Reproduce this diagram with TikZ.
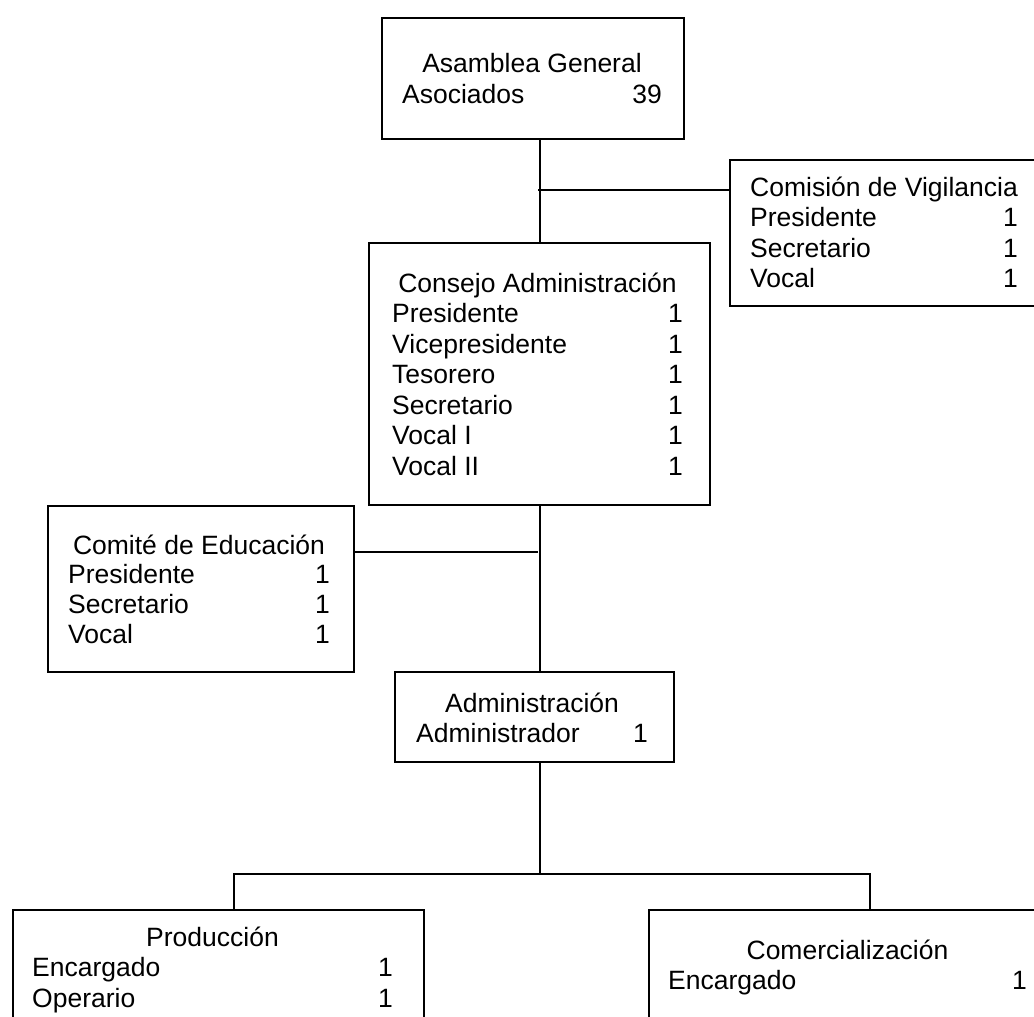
\documentclass[tikz,border=0pt]{standalone}
\usepackage{fontspec}
\setmainfont{Liberation Sans}
\usepackage{tikz}

\begin{document}
\begin{tikzpicture}[x=1pt, y=-1pt,
    font=\fontsize{26.5}{30.5}\selectfont,
    caja/.style={draw, line width=2pt, rectangle, inner sep=0pt, anchor=north west},
    linea/.style={line width=2pt},
    titulo/.style={anchor=base, inner sep=0pt},
    cargo/.style={anchor=base west, inner sep=0pt},
    cant/.style={anchor=base east, inner sep=0pt}]

    \useasboundingbox (0,0) rectangle (1034,1017);
    \clip (0,0) rectangle (1034,1017);

    %Asamblea
    \node[caja, minimum width=302, minimum height=121] (asamblea) at (381,17) {};
    \node[titulo] (asa0) at (532,72) {Asamblea General};
    \node[cargo] (asa1) at (402,103.5) {Asociados};
    \node[cant] (asa1n) at (662,103.5) {39};

    %Comision de vigilancia
    \node[caja, minimum width=320, minimum height=146] (comision) at (729,159) {};
    \node[titulo] (com0) at (884,196) {Comisión de Vigilancia};
    \node[cargo] (com1) at (750,226.5) {Presidente};
    \node[cant] (com1n) at (1018,226.5) {1};
    \node[cargo] (com2) at (750,257) {Secretario};
    \node[cant] (com2n) at (1018,257) {1};
    \node[cargo] (com3) at (750,287.5) {Vocal};
    \node[cant] (com3n) at (1018,287.5) {1};

    %Consejo
    \node[caja, minimum width=341, minimum height=262] (consejo) at (368,242) {};
    \node[titulo] (con0) at (537.5,292) {Consejo Administración};
    \node[cargo] (con1) at (392,322.5) {Presidente};
    \node[cant] (con1n) at (683,322.5) {1};
    \node[cargo] (con2) at (392,353) {Vicepresidente};
    \node[cant] (con2n) at (683,353) {1};
    \node[cargo] (con3) at (392,383.5) {Tesorero};
    \node[cant] (con3n) at (683,383.5) {1};
    \node[cargo] (con4) at (392,414) {Secretario};
    \node[cant] (con4n) at (683,414) {1};
    \node[cargo] (con5) at (392,444.5) {Vocal I};
    \node[cant] (con5n) at (683,444.5) {1};
    \node[cargo] (con6) at (392,475) {Vocal II};
    \node[cant] (con6n) at (683,475) {1};

    %Comite de educacion
    \node[caja, minimum width=306, minimum height=166] (comite) at (47,505) {};
    \node[titulo] (cte0) at (199,554) {Comité de Educación};
    \node[cargo] (cte1) at (68,583.5) {Presidente};
    \node[cant] (cte1n) at (330,583.5) {1};
    \node[cargo] (cte2) at (68,613.5) {Secretario};
    \node[cant] (cte2n) at (330,613.5) {1};
    \node[cargo] (cte3) at (68,643.5) {Vocal};
    \node[cant] (cte3n) at (330,643.5) {1};

    %Administracion
    \node[caja, minimum width=279, minimum height=90] (adm) at (394,671) {};
    \node[titulo] (adm0) at (532,712) {Administración};
    \node[cargo] (adm1) at (416,742) {Administrador};
    \node[cant] (adm1n) at (648,742) {1};

    %Produccion
    \node[caja, minimum width=411, minimum height=140] (prod) at (12,909) {};
    \node[titulo] (pro0) at (212.5,946) {Producción};
    \node[cargo] (pro1) at (32,976.5) {Encargado};
    \node[cant] (pro1n) at (393,976.5) {1};
    \node[cargo] (pro2) at (32,1007) {Operario};
    \node[cant] (pro2n) at (393,1007) {1};

    %Comercializacion
    \node[caja, minimum width=420, minimum height=140] (comer) at (648,909) {};
    \node[titulo] (cml0) at (847.5,959) {Comercialización};
    \node[cargo] (cml1) at (668,989.5) {Encargado};
    \node[cant] (cml1n) at (1027,989.5) {1};

    %Lines
    \coordinate (r1) at (538,190);
    \coordinate (r2) at (538,552);
    \coordinate (p1) at (234,874);
    \coordinate (p2) at (870,874);
    \draw[linea] (asamblea.south -| consejo.north) -- (consejo.north);
    \draw[linea] (r1) -- (r1 -| comision.west);
    \draw[linea] (consejo.south) -- (consejo.south |- adm.north);
    \draw[linea] (r2) -- (r2 -| comite.east);
    \draw[linea] (consejo.south |- adm.south) -- (consejo.south |- p1);
    \draw[linea] (p1 |- prod.north) -- (p1) -- (p2) -- (p2 |- comer.north);

\end{tikzpicture}
\end{document}
